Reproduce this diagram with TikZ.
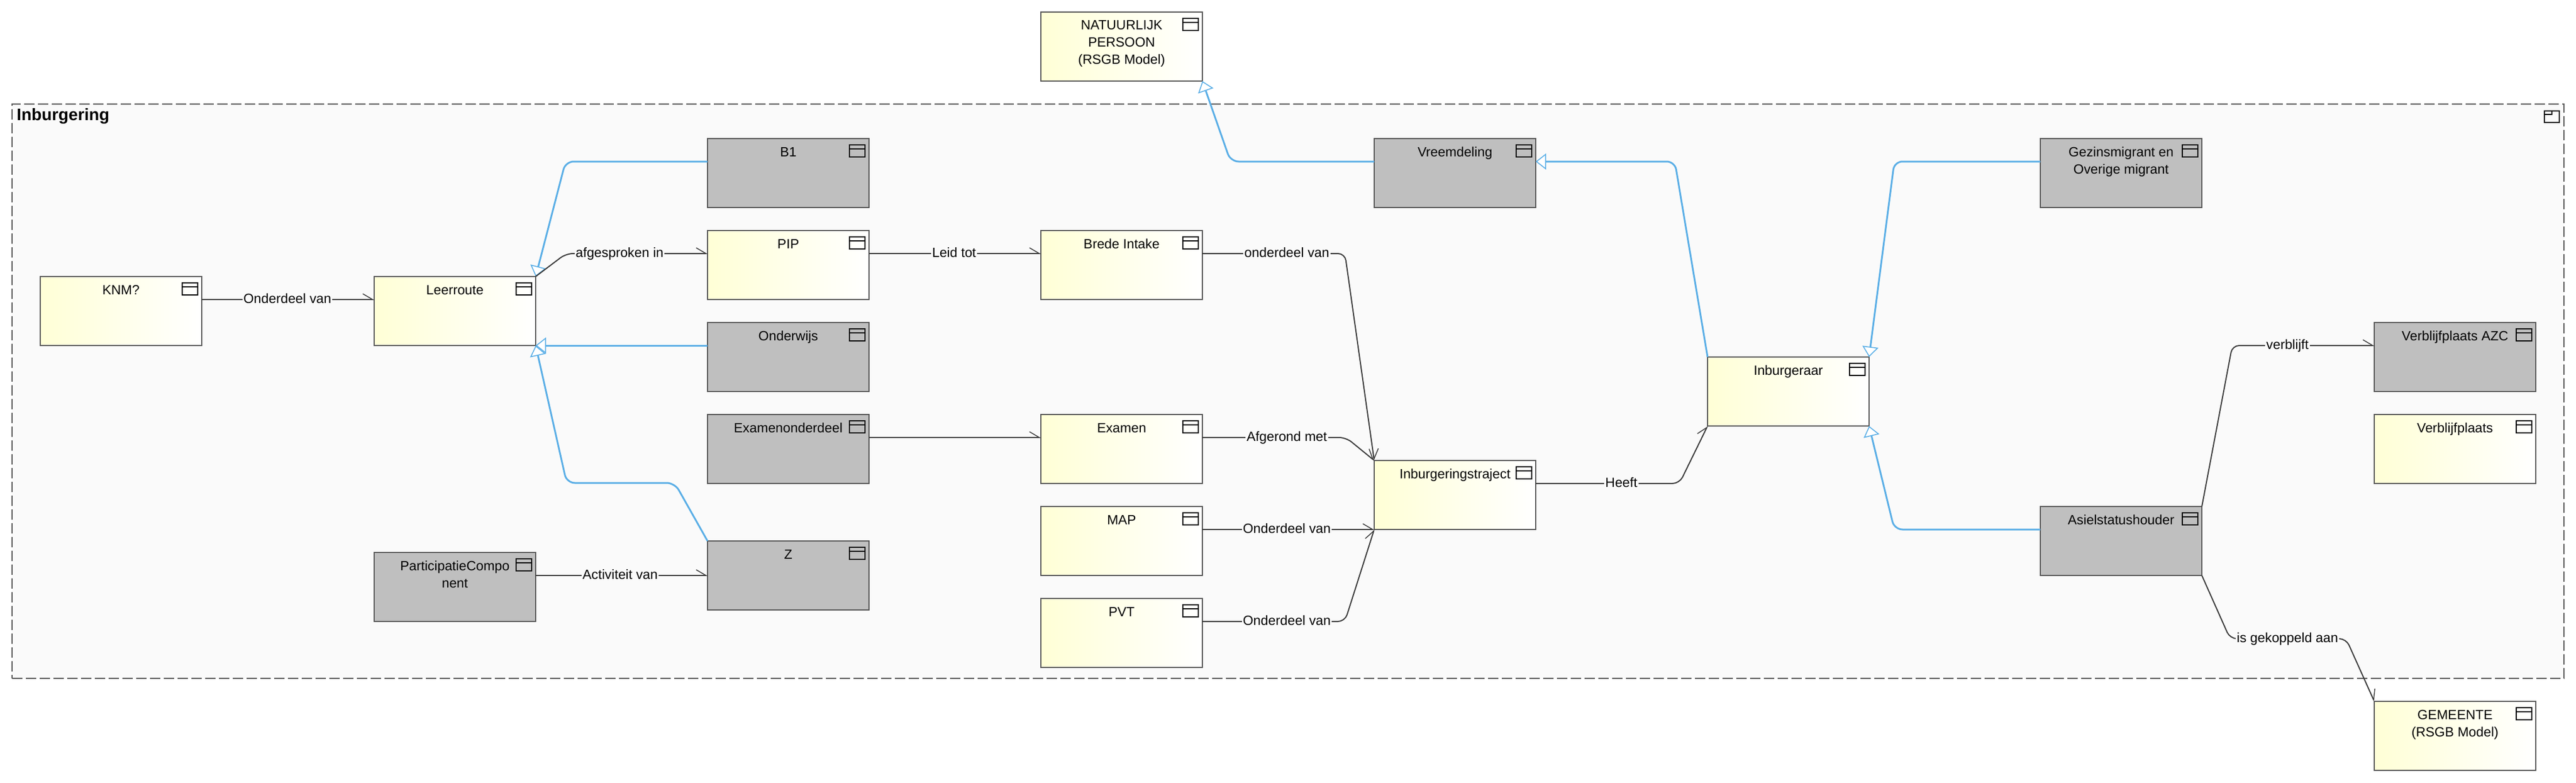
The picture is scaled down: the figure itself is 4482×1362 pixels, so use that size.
\documentclass[tikz,border=0pt]{standalone}
\usepackage{fontspec}
\setmainfont{Liberation Sans}
\usetikzlibrary{arrows.meta,calc}
\definecolor{lemon}{HTML}{FFFFD6}
\definecolor{greybox}{HTML}{BFBFBF}
\definecolor{edgegrey}{HTML}{555555}
\definecolor{pkgfill}{HTML}{FAFAFA}
\definecolor{bluegen}{HTML}{5AAEE6}
\definecolor{reldark}{HTML}{3A3A3A}
\tikzset{
  x=1pt,y=-1pt,
  boxbase/.style={draw=edgegrey,line width=2.5pt,inner sep=0pt,outer sep=0pt,anchor=north west},
  yellowbox/.style={boxbase,left color=lemon,right color=white},
  greyboxst/.style={boxbase,fill=greybox},
  iconst/.style={draw=black,line width=2.5pt},
  pkgst/.style={draw=edgegrey,line width=2.5pt,fill=pkgfill,dash pattern=on 18pt off 6pt,inner sep=0pt,outer sep=0pt,anchor=north west,minimum width=4440pt,minimum height=999pt},
  rel/.style={draw=reldark,line width=2pt,rounded corners=12pt,-{Straight Barb[harpoon,length=17pt,width=20pt,line width=1.5pt]}},
  gen/.style={draw=bluegen,line width=3pt,rounded corners=14pt,-{Triangle[open,fill=white,length=18pt,width=28pt,line width=1.6pt]}},
  lbl/.style={fill=pkgfill,inner sep=2pt,font=\fontsize{23.3}{28}\selectfont,text height=17pt,text depth=5pt},
}
\newcommand{\bx}[5]{%
  \node[#1] (#2) at (#3,#4) {\parbox[c][120pt][t]{281pt}{\centering\fontsize{23.3}{30}\selectfont\rule{0pt}{31pt}#5}};
  \draw[iconst] ([xshift=-34pt,yshift=-11pt]#2.north east) rectangle ([xshift=-7pt,yshift=-32pt]#2.north east);
  \draw[iconst] ([xshift=-34pt,yshift=-18pt]#2.north east) -- ([xshift=-7pt,yshift=-18pt]#2.north east);
}
\begin{document}
\begin{tikzpicture}
\useasboundingbox (0,0) rectangle (4482,1362);
\fill[white] (0,0) rectangle (4482,1362);
\node[pkgst] (pkg) at (21,181) {};
\node[anchor=west,inner sep=0pt,font=\fontsize{29}{34}\selectfont\bfseries] (pkgtitle) at (29,202) {Inburgering};
\draw[iconst] ([xshift=-34pt,yshift=-12pt]pkg.north east) rectangle ([xshift=-8pt,yshift=-32pt]pkg.north east);
\draw[iconst] ([xshift=-34pt,yshift=-18pt]pkg.north east) -- ([xshift=-21pt,yshift=-18pt]pkg.north east) -- ([xshift=-21pt,yshift=-12pt]pkg.north east);

\bx{yellowbox}{natuurlijk}{1811}{21}{NATUURLIJK\\PERSOON\\(RSGB Model)}
\bx{yellowbox}{knm}{70}{481}{KNM?}
\bx{yellowbox}{leerroute}{651}{481}{Leerroute}
\bx{greyboxst}{bone}{1231}{241}{B1}
\bx{yellowbox}{pip}{1231}{401}{PIP}
\bx{greyboxst}{onderwijs}{1231}{561}{Onderwijs}
\bx{greyboxst}{examenond}{1231}{721}{Examenonderdeel}
\bx{greyboxst}{zet}{1231}{941}{Z}
\bx{greyboxst}{partic}{651}{961}{ParticipatieCompo\\nent}
\bx{yellowbox}{brede}{1811}{401}{Brede Intake}
\bx{yellowbox}{examen}{1811}{721}{Examen}
\bx{yellowbox}{map}{1811}{881}{MAP}
\bx{yellowbox}{pvt}{1811}{1041}{PVT}
\bx{greyboxst}{vreemd}{2391}{241}{Vreemdeling}
\bx{yellowbox}{traject}{2391}{801}{Inburgeringstraject}
\bx{yellowbox}{inburgeraar}{2971}{621}{Inburgeraar}
\bx{greyboxst}{gezin}{3550}{241}{Gezinsmigrant en\\Overige migrant}
\bx{greyboxst}{asiel}{3550}{881}{Asielstatushouder}
\bx{greyboxst}{azc}{4131}{561}{Verblijfplaats AZC}
\bx{yellowbox}{verblijf}{4131}{721}{Verblijfplaats}
\bx{yellowbox}{gemeente}{4131}{1220}{GEMEENTE\\(RSGB Model)}

% generalisations
\draw[gen] ([yshift=20pt]bone.west) -- (984,281) -- (leerroute.north east);
\draw[gen] ([yshift=20pt]onderwijs.west) -- (leerroute.south east);
\draw[gen] (zet.north west) -- (1174,840) -- (986,840) -- (leerroute.south east);
\draw[gen] ([yshift=20pt]vreemd.west) -- (2141,281) -- (natuurlijk.south east);
\draw[gen] (inburgeraar.north west) -- (2914,281) -- ([yshift=20pt]vreemd.east);
\draw[gen] ([yshift=20pt]gezin.west) -- (3296,281) -- (inburgeraar.north east);
\draw[gen] ([yshift=20pt]asiel.west) -- (3296,921) -- (inburgeraar.south east);

% associations
\draw[rel] ([yshift=20pt]knm.east) -- ([yshift=20pt]leerroute.west);
\draw[rel] (leerroute.north east) -- (985,441) -- ([yshift=20pt]pip.west);
\draw[rel] ([yshift=20pt]pip.east) -- ([yshift=20pt]brede.west);
\draw[rel] ([yshift=20pt]examenond.east) -- ([yshift=20pt]examen.west);
\draw[rel] ([yshift=20pt]partic.east) -- (zet.west);
\draw[rel] ([yshift=20pt]brede.east) -- (2340,441) -- (traject.north west);
\draw[rel] ([yshift=20pt]examen.east) -- (2342,761) -- (traject.north west);
\draw[rel] ([yshift=20pt]map.east) -- (traject.south west);
\draw[rel] ([yshift=20pt]pvt.east) -- (2340,1081) -- (traject.south west);
\draw[rel] ([yshift=20pt]traject.east) -- (2922,841) -- (inburgeraar.south west);
\draw[rel] (asiel.north east) -- (3884,601) -- ([yshift=20pt]azc.west);
\draw[rel] (asiel.south east) -- (3880,1111) -- (4082,1111) -- (gemeente.north west);

% labels
\node[lbl] (l1) at (500,521) {Onderdeel van};
\node[lbl] (l2) at (1078,441) {afgesproken in};
\node[lbl] (l3) at (1660,441) {Leid tot};
\node[lbl] (l4) at (2239,441) {onderdeel van};
\node[lbl] (l5) at (2239,761) {Afgerond met};
\node[lbl] (l6) at (2239,921) {Onderdeel van};
\node[lbl] (l7) at (2239,1081) {Onderdeel van};
\node[lbl] (l8) at (1079,1001) {Activiteit van};
\node[lbl] (l9) at (2821,841) {Heeft};
\node[lbl] (l10) at (3980,601) {verblijft};
\node[lbl] (l11) at (3980,1111) {is gekoppeld aan};
\end{tikzpicture}
\end{document}
